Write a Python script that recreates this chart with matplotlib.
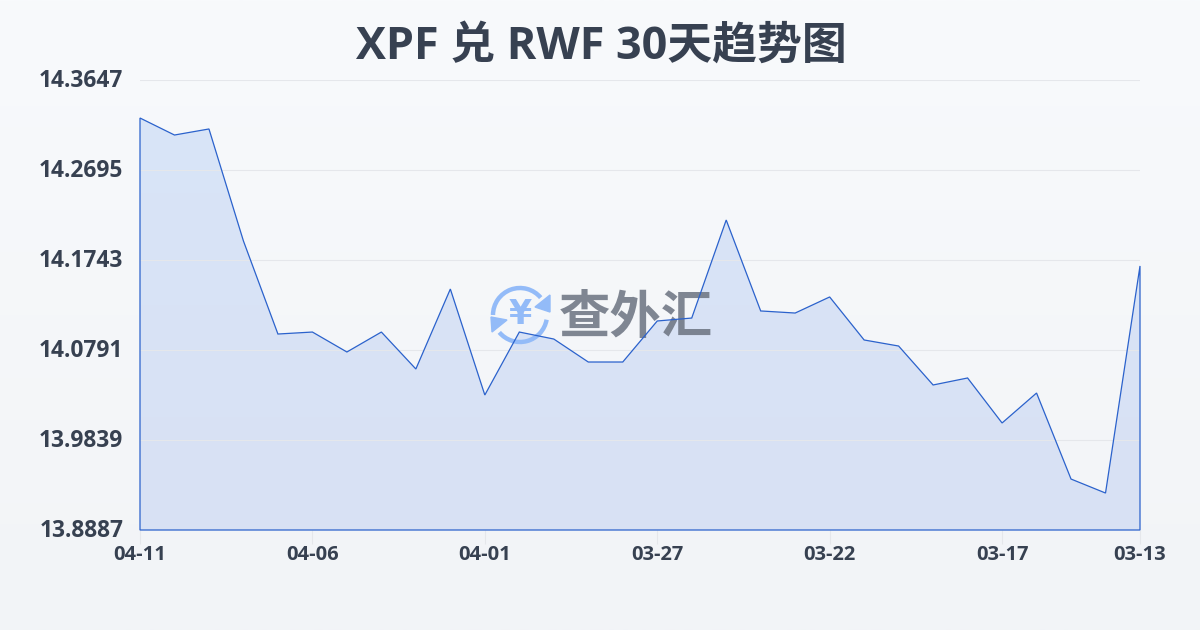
"""
XPF / RWF 30 day trend chart.
"""

import numpy as np
import matplotlib
matplotlib.use('Agg')
import matplotlib.pyplot as plt
from matplotlib.patches import Arc, Polygon
from matplotlib.colors import LinearSegmentedColormap
from matplotlib.transforms import ScaledTranslation

plt.rcParams['font.family'] = ['Open Sans', 'Noto Sans CJK SC', 'DejaVu Sans']

# Newest first, the chart runs backwards in time
rates = [14.3245, 14.3065, 14.3129, 14.1944, 14.0960, 14.0981, 14.0770, 14.0981,
         14.0590, 14.1436, 14.0315, 14.0981, 14.0907, 14.0664, 14.0664, 14.1098,
         14.1129, 14.2166, 14.1204, 14.1182, 14.1352, 14.0897, 14.0833, 14.0421,
         14.0495, 14.0019, 14.0336, 13.9426, 13.9278, 14.1680]
x_labels = ['04-11', '04-06', '04-01', '03-27', '03-22', '03-17', '03-13']
x_label_pos = [0, 5, 10, 15, 20, 25, 29]
y_ticks = [13.8887, 13.9839, 14.0791, 14.1743, 14.2695, 14.3647]
y_labels = ['13.8887', '13.9839', '14.0791', '14.1743', '14.2695', '14.3647']

TEXT = '#374151'
GRID = '#e5e7eb'
LINE = '#2b62cc'

fig = plt.figure(figsize=(12, 6.3), dpi=100)

# Page background gradient
bg = fig.add_axes([0, 0, 1, 1], zorder=0)
bg.imshow(np.linspace(0, 1, 256).reshape(-1, 1), aspect='auto', extent=[0, 1200, 630, 0],
          cmap=LinearSegmentedColormap.from_list('page', ['#f8fafc', '#f2f4f7']))
bg.axis('off')

rect = [140 / 1200, 1 - 530 / 630, 1000 / 1200, 450 / 630]
ax = fig.add_axes(rect, zorder=1)
ax.patch.set_alpha(0)

x = np.arange(len(rates))
ax.set_xlim(0, len(rates) - 1)
ax.set_ylim(y_ticks[0], y_ticks[-1])

# Area fill with a faint vertical gradient, clipped to the area under the line
fill_cmap = LinearSegmentedColormap.from_list('fill', ['#d8e5f8', '#d9e1f4'])
img = ax.imshow(np.linspace(0, 1, 256).reshape(-1, 1), aspect='auto', cmap=fill_cmap,
                extent=[0, len(rates) - 1, y_ticks[0], y_ticks[-1]], zorder=1)
verts = list(zip(x, rates)) + [(x[-1], y_ticks[0]), (x[0], y_ticks[0])]
clip = Polygon(verts, closed=True, transform=ax.transData, facecolor='none', edgecolor='none')
ax.add_patch(clip)
img.set_clip_path(clip)

ax.grid(True, axis='y', color=GRID, linewidth=0.8, zorder=2)
ax.set_axisbelow(False)

ax.set_yticks(y_ticks)
ax.set_yticklabels(y_labels, fontsize=16.4, fontweight='bold', color=TEXT)
ax.set_xticks(x_label_pos)
ax.set_xticklabels(x_labels, fontsize=14.5, fontweight='bold', color=TEXT)
ax.tick_params(axis='y', length=0, pad=12)
ax.tick_params(axis='x', length=10, width=0.8, color=GRID, pad=1)
# y labels sit slightly above their grid lines
nudge = ScaledTranslation(0, 2 / 100, fig.dpi_scale_trans)
for lab in ax.get_yticklabels():
    lab.set_transform(lab.get_transform() + nudge)
for side in ax.spines:
    ax.spines[side].set_visible(False)

fig.text(0.5008, 1 - 47 / 630, 'XPF 兑 RWF 30天趋势图', ha='center', va='center',
         fontsize=32.3, fontweight='bold', color=TEXT)

# Watermark logo, in pixel coordinates of the figure
wm = fig.add_axes([0, 0, 1, 1], zorder=2)
wm.set_xlim(0, 1200)
wm.set_ylim(630, 0)
wm.axis('off')
ICON = '#93bbf8'
wm.add_patch(Arc((520, 315), 54, 54, theta1=180, theta2=320, color=ICON, linewidth=3.2))
wm.add_patch(Arc((520, 315), 54, 54, theta1=10, theta2=140, color=ICON, linewidth=3.2))
wm.add_patch(Polygon([(550, 295), (550, 312), (535, 307)], closed=True, color=ICON))
wm.add_patch(Polygon([(491, 317), (507, 320), (492, 332)], closed=True, color=ICON))
wm.text(520, 315, '¥', ha='center', va='center', fontsize=24, fontweight='bold', color=ICON,
        family='DejaVu Sans')
wm.text(636, 318, '查外汇', ha='center', va='center', fontsize=37, fontweight='bold',
        color='#6b7280', alpha=0.85, family='Noto Sans CJK SC')

# Outline goes on top of the logo
top = fig.add_axes(rect, zorder=3)
top.set_xlim(ax.get_xlim())
top.set_ylim(ax.get_ylim())
top.axis('off')
top.add_patch(Polygon(verts, closed=True, facecolor='none', edgecolor=LINE, linewidth=0.9,
                      joinstyle='miter', clip_on=False))

plt.savefig('out.png', dpi=100)
plt.close()
